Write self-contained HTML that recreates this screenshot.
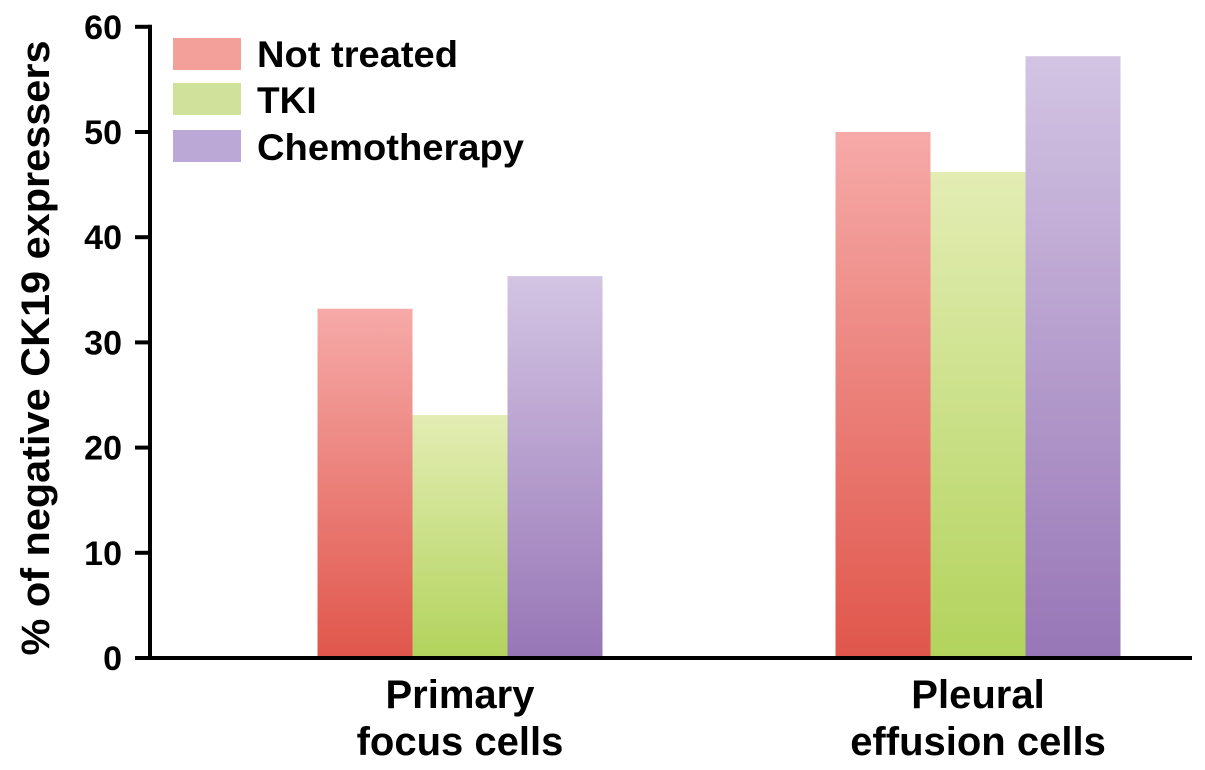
<!DOCTYPE html>
<html><head><meta charset="utf-8"><style>
html,body{margin:0;padding:0;background:#fff;}
svg{display:block;font-family:"Liberation Sans",Arial,sans-serif;font-weight:bold;}
</style></head><body>
<svg id="chart" width="1205" height="770">
<defs>
<linearGradient id="gr" x1="0" y1="0" x2="0" y2="1"><stop offset="0" stop-color="#f6aaa8"/><stop offset="1" stop-color="#e0564b"/></linearGradient>
<linearGradient id="gg" x1="0" y1="0" x2="0" y2="1"><stop offset="0" stop-color="#e3edb4"/><stop offset="1" stop-color="#b2d35c"/></linearGradient>
<linearGradient id="gp" x1="0" y1="0" x2="0" y2="1"><stop offset="0" stop-color="#d3c4e3"/><stop offset="1" stop-color="#9776b6"/></linearGradient>
</defs>
<g id="bars"></g>
<g id="axes"></g>
<text transform="translate(49,348) rotate(-90)" text-anchor="middle" font-size="40" textLength="615" lengthAdjust="spacingAndGlyphs">% of negative CK19 expressers</text>
<g font-size="37">
<rect x="173" y="38" width="68" height="32" fill="#f4a09a"/>
<text x="257" y="67" textLength="201" lengthAdjust="spacingAndGlyphs">Not treated</text>
<rect x="173" y="83" width="68" height="32" fill="#cfe19b"/>
<text x="257" y="113">TKI</text>
<rect x="173" y="130" width="68" height="32" fill="#bca8d6"/>
<text x="257" y="160" textLength="267" lengthAdjust="spacingAndGlyphs">Chemotherapy</text>
</g>
</svg>
<script>
const categories=[["Primary","focus cells"],["Pleural","effusion cells"]];
const notTreated=[33.2,50];
const tki=[23.1,46.2];
const chemo=[36.3,57.2];
const yTicks=[0,10,20,30,40,50,60];
const NS="http://www.w3.org/2000/svg";
const y0=658,pxPer=105.2/10;
function yS(v){return y0-v*pxPer;}
const groupCenters=[460,978],bw=95;
const bars=document.getElementById('bars'),axes=document.getElementById('axes');
const series=[[notTreated,'url(#gr)','not-treated'],[tki,'url(#gg)','tki'],[chemo,'url(#gp)','chemotherapy']];
categories.forEach((c,i)=>{
 series.forEach((s,j)=>{
  const r=document.createElementNS(NS,'rect');
  const x=groupCenters[i]-1.5*bw+j*bw;
  r.setAttribute('x',x);r.setAttribute('width',bw);
  r.setAttribute('y',yS(s[0][i]));r.setAttribute('height',y0-yS(s[0][i]));
  r.setAttribute('fill',s[1]);
  
  
  bars.appendChild(r);
 });
 c.forEach((line,k)=>{
  const t=document.createElementNS(NS,'text');
  t.setAttribute('x',groupCenters[i]);t.setAttribute('y',708+k*47);
  t.setAttribute('text-anchor','middle');t.setAttribute('font-size','40');
  t.textContent=line;
  
  
  axes.appendChild(t);
 });
});
function line(x1,y1,x2,y2){const l=document.createElementNS(NS,'line');l.setAttribute('x1',x1);l.setAttribute('y1',y1);l.setAttribute('x2',x2);l.setAttribute('y2',y2);l.setAttribute('stroke','#000');l.setAttribute('stroke-width','4');axes.appendChild(l);return l;}
const ya=line(150,yS(60)-2,150,y0+2);


const xa=line(148,y0,1192,y0);


yTicks.forEach(v=>{
 const l=line(135,yS(v),150,yS(v));
 
 
 const t=document.createElementNS(NS,'text');
 t.setAttribute('x',122);t.setAttribute('y',yS(v)+12);t.setAttribute('text-anchor','end');t.setAttribute('font-size','34');
 t.textContent=v;
 
 
 axes.appendChild(t);
});
</script>
</body></html>
